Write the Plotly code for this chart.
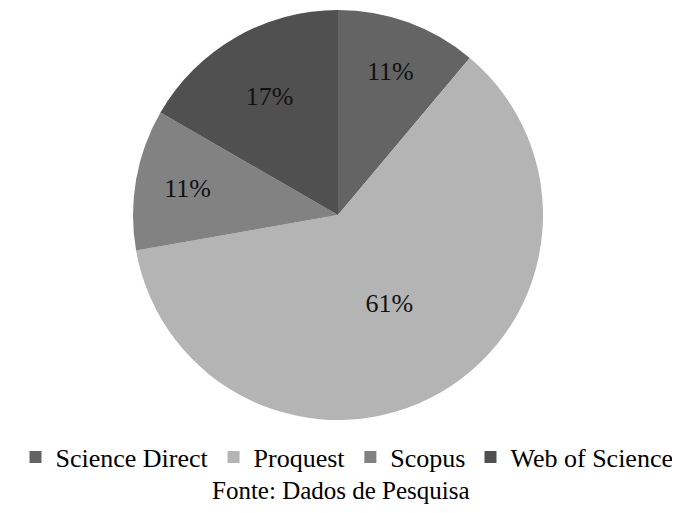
import plotly.graph_objects as go

labels = ["Science Direct", "Proquest", "Scopus", "Web of Science"]
values = [2, 11, 2, 3]
colors = ["#646464", "#b4b4b4", "#828282", "#505050"]
caption = "Fonte: Dados de Pesquisa"

W, H = 680, 513
OFF = 8  # page body margin
cx, cy, r = 338 - OFF, 215 - OFF, 205

fig = go.Figure(go.Pie(
    labels=labels,
    values=values,
    sort=False,
    direction="clockwise",
    rotation=0,
    marker=dict(colors=colors, line=dict(width=0)),
    texttemplate="%{percent:.0%}",
    textposition="inside",
    insidetextorientation="horizontal",
    textfont=dict(family="Liberation Serif", size=26, color="#111111"),
    domain=dict(x=[(cx - r) / W, (cx + r) / W], y=[(H - cy - r) / H, (H - cy + r) / H]),
    hoverinfo="label+percent",
))

fig.update_layout(
    width=W, height=H,
    margin=dict(l=0, r=0, t=0, b=0),
    paper_bgcolor="white",
    plot_bgcolor="white",
    showlegend=True,
    legend=dict(
        orientation="h",
        x=(347 - OFF) / W, xanchor="center",
        y=(H - (457 - OFF)) / H, yanchor="middle",
        font=dict(family="Liberation Serif", size=26, color="#000000"),
        itemwidth=30,
        traceorder="normal",
    ),
    annotations=[dict(
        text=caption, x=(341 - OFF) / W, y=(H - (490 - OFF)) / H, xref="paper", yref="paper",
        xanchor="center", yanchor="middle", showarrow=False,
        font=dict(family="Liberation Serif", size=25, color="#000000"),
    )],
)

fig.write_html("out.html")
